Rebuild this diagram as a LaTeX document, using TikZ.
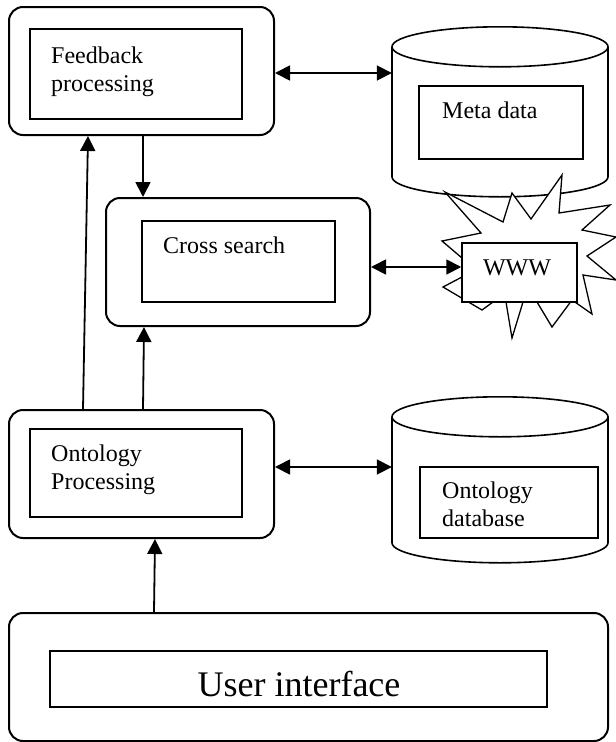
\documentclass[tikz,border=0pt]{standalone}
\usepackage{fontspec}
\setmainfont{Liberation Serif}
\usetikzlibrary{positioning,arrows.meta}
\newcommand\boxfont{\fontsize{24}{28}\selectfont}
\newcommand\bigboxfont{\fontsize{36}{40}\selectfont}
\tikzset{
  flowarrow/.style={-{Triangle[length=15pt, width=15pt]}, line width=1.8pt},
  twoway/.style={{Triangle[length=15pt, width=15pt]}-{Triangle[length=15pt, width=15pt]}, line width=1.8pt},
  procbox/.style={draw, line width=2pt, rounded corners=14pt, inner sep=0pt, minimum width=265, minimum height=128},
  innerbox/.style={draw, line width=1.5pt, fill=white, inner sep=0pt},
  dbbody/.style={inner sep=0pt, minimum width=216, minimum height=130},
  dbline/.style={line width=1.6pt},
  burst/.style={draw, line width=1.3pt, fill=white, line join=miter},
  boxlabel/.style={font=\boxfont, inner sep=0pt, align=left, anchor=base west},
  % cylinder outline, drawn from the top centre; #1 = side height
  pics/database/.style={code={
    \draw[dbline, fill=white] (-108,0) -- (-108,#1) .. controls (-108,#1+11.05) and (-59.65,#1+20) .. (0,#1+20)
      .. controls (59.65,#1+20) and (108,#1+11.05) .. (108,#1) -- (108,0);
    \draw[dbline] (-108,0) .. controls (-108,-11.05) and (-59.65,-20) .. (0,-20)
      .. controls (59.65,-20) and (108,-11.05) .. (108,0)
      .. controls (108,11.05) and (59.65,20) .. (0,20)
      .. controls (-59.65,20) and (-108,11.05) .. (-108,0) -- cycle;
  }}
}

\begin{document}
\begin{tikzpicture}[x=1pt, y=-1pt]
  \useasboundingbox (0,0) rectangle (616,742);
  % databases
  \node[dbbody] (meta) at (500,112) {};
  \pic at (meta.north) {database=130};
  \node[dbbody, minimum height=126] (ontodb) at (500,480) {};
  \pic at (ontodb.north) {database=126};
  % the web
  \draw[burst] (442,241) -- (481,233) -- (445,192) -- (503,222) -- (512,193) -- (531,219) -- (562,175) -- (559,213)
    -- (610,205) -- (582,230) -- (616,237) -- (587,256) -- (616,280) -- (583,275) -- (592,314) -- (572,300)
    -- (552,327) -- (537,302) -- (523,302) -- (512,338) -- (506,302) -- (493,302) -- (482,310) -- (465,300)
    -- (443,287) -- (462,277) -- (462,258) -- cycle;
  % outer boxes
  \node[procbox] (fbout) at (141.5,71) {};
  \node[procbox, minimum width=264] (csout) at (238,262) {};
  \node[procbox] (onout) at (141.5,474) {};
  \node[procbox, minimum width=599] (uiout) at (308.5,677) {};
  % inner boxes
  \node[innerbox, minimum width=212, minimum height=90] (fbin) at (136,74) {};
  \node[innerbox, minimum width=193, minimum height=81] (csin) at (238.5,261.5) {};
  \node[innerbox, minimum width=212, minimum height=88] (onin) at (136,473) {};
  \node[innerbox, minimum width=497, minimum height=56] (uiin) at (298.5,679) {};
  \node[innerbox, minimum width=164, minimum height=73] (metain) at (501,122.5) {};
  \node[innerbox, minimum width=178, minimum height=71] (ontodbin) at (509,502.5) {};
  \node[innerbox, minimum width=115, minimum height=59] (www) at (519.5,272.5) {};
  % labels (base = last line)
  \node[boxlabel] (fbtext) at (51,91) {Feedback\\processing};
  \node[boxlabel] (cstext) at (163,253) {Cross search};
  \node[boxlabel] (ontext) at (51,489) {Ontology\\Processing};
  \node[boxlabel] (metatext) at (442,118) {Meta data};
  \node[boxlabel] (ontodbtext) at (442,526) {Ontology\\database};
  \node[boxlabel, anchor=base] (wwwtext) at (517,275) {WWW};
  \node[font=\bigboxfont, inner sep=0pt, anchor=base] (uitext) at (299,696) {User interface};
  % connectors
  \draw[twoway] ([yshift=-2pt]fbout.east) -- ([yshift=-2pt]fbout.east -| meta.west);
  \draw[flowarrow] ([xshift=1.5pt]fbout.south) -- ([xshift=1.5pt]fbout.south |- csout.north);
  \draw[flowarrow] ([xshift=-58.5pt]onout.north) -- ([xshift=-53.5pt]fbout.south);
  \draw[flowarrow] ([xshift=1.5pt]onout.north) -- ([xshift=-94pt]csout.south);
  \draw[twoway] ([yshift=-5pt]csout.east) -- ([yshift=-5pt]csout.east -| www.west);
  \draw[twoway] ([yshift=7pt]onout.east) -- ([yshift=7pt]onout.east -| ontodb.west);
  \draw[flowarrow] ([xshift=-154.5pt]uiout.north) -- ([xshift=13.5pt]onout.south);
\end{tikzpicture}
\end{document}
